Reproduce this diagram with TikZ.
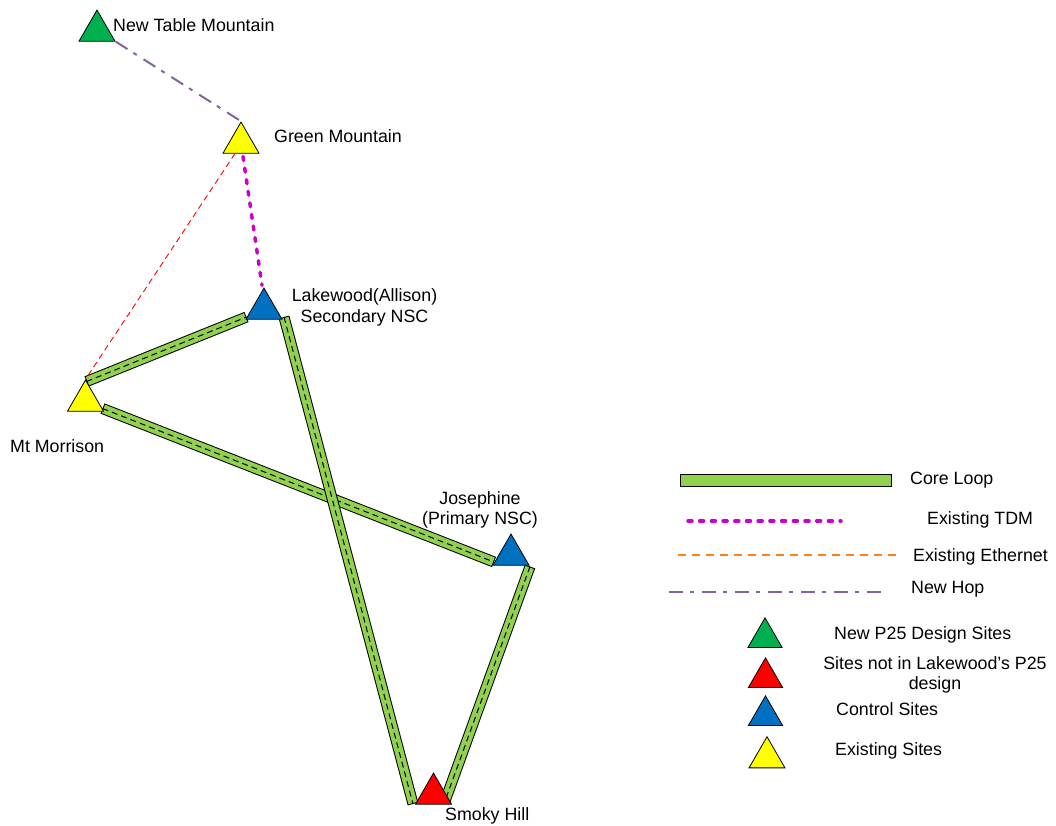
\documentclass[tikz,border=0pt]{standalone}
\usepackage{fontspec}
\setmainfont{Liberation Sans}
\usetikzlibrary{shapes.geometric,calc}
\definecolor{sitegreen}{RGB}{0,176,80}
\definecolor{siteyellow}{RGB}{255,255,0}
\definecolor{siteblue}{RGB}{0,112,192}
\definecolor{sitered}{RGB}{255,0,0}
\definecolor{loopgreen}{RGB}{146,208,80}
\definecolor{tdmmag}{RGB}{204,0,204}
\definecolor{hoppurple}{RGB}{128,100,162}
\definecolor{ethorange}{RGB}{255,128,20}
\begin{document}
\begin{tikzpicture}[x=1pt,y=-1pt,
  site/.style={regular polygon,regular polygon sides=3,minimum size=41.5pt,inner sep=0pt,draw=black,line width=0.8pt},
  lsite/.style={site,minimum size=39.5pt},
  lbl/.style={inner sep=0pt,font=\fontsize{17.8}{20.5}\selectfont,text=black,yshift=-1.5pt},
  barout/.style={line width=11pt,draw=black},
  barin/.style={line width=9pt,draw=loopgreen,shorten <=1pt,shorten >=1pt},
  barmid/.style={line width=1pt,draw=black,dash pattern=on 6pt off 4pt},
  tdm/.style={line width=3.5pt,draw=tdmmag,line cap=round,dash pattern=on 4pt off 7.7pt},
  eth/.style={line width=1.2pt,draw=ethorange,dash pattern=on 8pt off 6pt},
  ethmap/.style={line width=0.9pt,draw=red,dash pattern=on 6pt off 4pt},
  hop/.style={line width=2pt,draw=hoppurple,dash pattern=on 14pt off 7pt on 4pt off 8pt}]
\useasboundingbox (0,0) rectangle (1056,825);

% bar end coordinates
\coordinate (b1a) at (86.5,381.5);
\coordinate (b1b) at (246.5,317);
\coordinate (b2a) at (102.5,408.5);
\coordinate (b2b) at (494,562);
\coordinate (b3a) at (284,317);
\coordinate (b3b) at (413,804);
\coordinate (b4a) at (530,566.5);
\coordinate (b4b) at (445,801);

\foreach \a/\b in {b1a/b1b,b2a/b2b,b3a/b3b,b4a/b4b}{
  \draw[barout] (\a) -- (\b);
  \draw[barin] (\a) -- (\b);
  \draw[barmid] (\a) -- (\b);
}

% sites
\node[site,fill=sitegreen] (ntm) at (97,30.8) {};
\node[site,fill=siteyellow] (grn) at (241,142.8) {};
\node[site,fill=siteblue] (lak) at (264,308.8) {};
\node[site,fill=siteyellow] (mor) at (85.5,400.8) {};
\node[site,fill=siteblue] (jos) at (511,554.8) {};
\node[site,fill=sitered] (smo) at (433.5,793.8) {};

% links
\draw[hop] (ntm.corner 3) -- (grn.corner 1);
\draw[tdm] ($(grn.south)+(2,3)$) -- ($(lak.corner 1)+(-2,-2)$);
\coordinate (ethstart) at ($(grn.south)+(-6,0)$);
\draw[ethmap] (ethstart) -- (mor.corner 1);

% labels
\node[lbl,anchor=west] (tntm) at (113,24) {New Table Mountain};
\node[lbl,anchor=west] (tgrn) at (274,135) {Green Mountain};
\node[lbl,align=center] (tlak) at (364.5,306) {Lakewood(Allison)\\Secondary NSC};
\node[lbl,anchor=west] (tmor) at (10,445) {Mt Morrison};
\node[lbl,align=center] (tjos) at (480,508.5) {Josephine\\(Primary NSC)};
\node[lbl,anchor=west] (tsmo) at (445,814.5) {Smoky Hill};

% legend
\node[draw=black,line width=0.8pt,fill=loopgreen,minimum width=211pt,minimum height=12pt,inner sep=0pt] (lgbar) at (785.5,480) {};
\node[lbl,anchor=west] (tloop) at (910,479) {Core Loop};
\coordinate (tdma) at (688,521);
\coordinate (tdmb) at (841,521);
\draw[tdm] (tdma) -- (tdmb);
\node[lbl,anchor=west] (ttdm) at (927,518) {Existing TDM};
\coordinate (etha) at (678,555);
\coordinate (ethb) at (896,555);
\draw[eth] (etha) -- (ethb);
\node[lbl,anchor=west] (teth) at (913,555) {Existing Ethernet};
\coordinate (hopa) at (669,592);
\coordinate (hopb) at (882,592);
\draw[hop] (hopa) -- (hopb);
\node[lbl,anchor=west] (thop) at (911,588) {New Hop};

\node[lsite,fill=sitegreen] (lg1) at (765,637.6) {};
\node[lsite,fill=sitered] (lg2) at (765.5,677.6) {};
\node[lsite,fill=siteblue] (lg3) at (765.5,715.6) {};
\node[site,fill=siteyellow] (lg4) at (767,757.5) {};
\node[lbl,anchor=west] (tlg1) at (834,633) {New P25 Design Sites};
\node[lbl,align=center] (tlg2) at (935,673.5) {Sites not in Lakewood’s P25\\design};
\node[lbl,anchor=west] (tlg3) at (836,708) {Control Sites};
\node[lbl,anchor=west] (tlg4) at (835,749) {Existing Sites};
\end{tikzpicture}
\end{document}
